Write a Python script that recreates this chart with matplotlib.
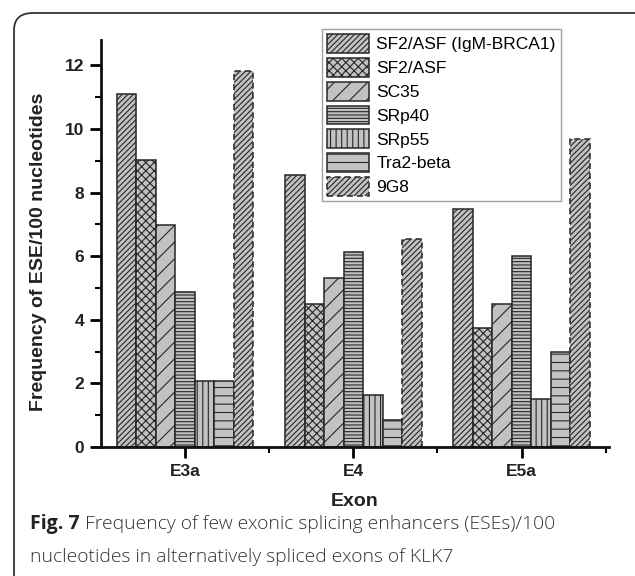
import matplotlib.pyplot as plt
import numpy as np
from matplotlib.patches import FancyBboxPatch
from matplotlib.ticker import MultipleLocator

exons = ['E3a', 'E4', 'E5a']
series = ['SF2/ASF (IgM-BRCA1)', 'SF2/ASF', 'SC35', 'SRp40', 'SRp55', 'Tra2-beta', '9G8']
values = [
    [11.1, 8.55, 7.47],   # SF2/ASF (IgM-BRCA1)
    [9.03, 4.5, 3.75],    # SF2/ASF
    [6.97, 5.3, 4.5],     # SC35
    [4.87, 6.12, 6.0],    # SRp40
    [2.08, 1.65, 1.5],    # SRp55
    [2.08, 0.85, 3.0],    # Tra2-beta
    [11.82, 6.55, 9.7],   # 9G8
]
hatches = ['//////', 'xxxx', '//', '-----', '|||', '--', '//////']

plt.rcParams['font.family'] = ['Liberation Sans', 'DejaVu Sans']
plt.rcParams['hatch.color'] = '#6a6a6a'
plt.rcParams['hatch.linewidth'] = 0.8

fig = plt.figure(figsize=(6.35, 5.76), dpi=100)
ax = fig.add_axes([101/635, 1-447/576, 508/635, 407/576])

# rounded caption frame
frame = FancyBboxPatch((14/635, -0.1), 640/635, (576-13)/576 + 0.1,
                       boxstyle='round,pad=0,rounding_size=0.03',
                       transform=fig.transFigure, fill=False,
                       edgecolor='#333333', linewidth=1.3, clip_on=False)
fig.patches.append(frame)

x = np.arange(1, len(exons) + 1)
w = 0.116
for i, (name, vals) in enumerate(zip(series, values)):
    pos = x + (i - 3) * w
    ls = (0, (4, 2.5)) if name == '9G8' else '-'
    ax.bar(pos, vals, width=w, color='#c2c2c2', edgecolor='#262626',
           linewidth=1.1, hatch=hatches[i], linestyle=ls, label=name)

ax.set_xlim(0.5, 3.52)
ax.set_ylim(0, 12.8)
ax.set_xticks(x)
ax.set_xticklabels(exons)
ax.set_xticks([1.5, 2.5, 3.5], minor=True)
ax.yaxis.set_major_locator(MultipleLocator(2))
ax.yaxis.set_minor_locator(MultipleLocator(1))
ax.tick_params(axis='both', which='major', length=8, width=2, labelsize=12.5, pad=4)
ax.tick_params(axis='both', which='minor', length=4, width=1.5)
for lab in ax.get_xticklabels() + ax.get_yticklabels():
    lab.set_fontweight('bold')
    lab.set_color('#222222')

for s in ['top', 'right']:
    ax.spines[s].set_visible(False)
for s in ['left', 'bottom']:
    ax.spines[s].set_linewidth(2)
    ax.spines[s].set_color('#111111')

ax.set_ylabel('Frequency of ESE/100 nucleotides', fontsize=14, fontweight='bold',
              color='#222222')
ax.yaxis.set_label_coords(-0.106, 0.479)
ax.set_xlabel('Exon', fontsize=14, fontweight='bold', color='#222222', labelpad=10)

leg = ax.legend(loc='upper right', bbox_to_anchor=(561/635, 1-29/576),
                bbox_transform=fig.transFigure, fontsize=12.5, frameon=True,
                fancybox=False, edgecolor='#888888', handlelength=2.4,
                handleheight=1.3, handletextpad=0.45, labelspacing=0.28,
                borderpad=0.3, borderaxespad=0)
leg.get_frame().set_linewidth(1.0)

cap_font = ['Open Sans', 'DejaVu Sans']
t1 = fig.text(30/635, 1-529/576, 'Fig. 7', fontsize=14, fontweight='bold',
              family=cap_font, color='#222222', va='baseline')
fig.canvas.draw()
bb = t1.get_window_extent()
fig.text((bb.x1 + 5)/635, 1-529/576, 'Frequency of few exonic splicing enhancers (ESEs)/100',
         fontsize=13.9, family=cap_font, fontweight='light',
         color='#333333', va='baseline')
fig.text(30/635, 1-562/576, 'nucleotides in alternatively spliced exons of KLK7',
         fontsize=13.9, family=cap_font, fontweight='light',
         color='#333333', va='baseline')

fig.savefig('out.png', dpi=100)
